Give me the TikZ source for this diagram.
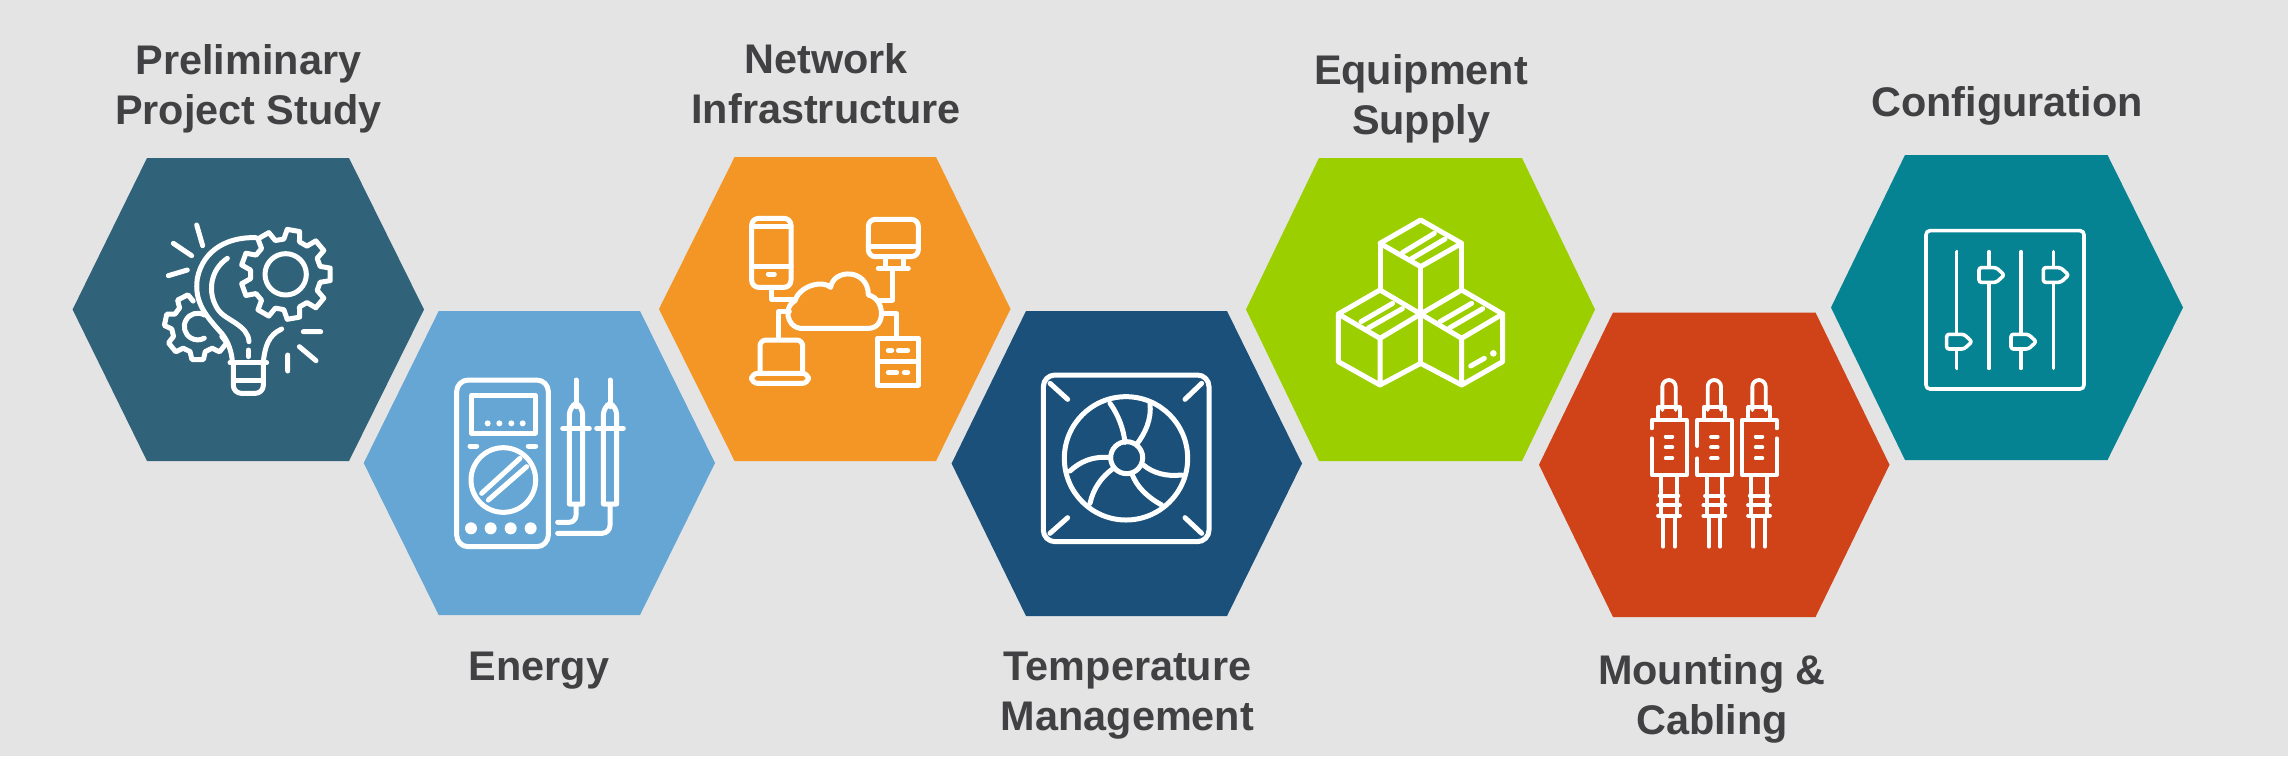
\documentclass[tikz,border=0pt]{standalone}
\usepackage{fontspec}
\setmainfont{Liberation Sans}
\definecolor{bgcol}{HTML}{E4E4E4}
\definecolor{hexa}{HTML}{306279}
\definecolor{hexb}{HTML}{65A6D4}
\definecolor{hexc}{HTML}{F39626}
\definecolor{hexd}{HTML}{1A5079}
\definecolor{hexe}{HTML}{9BCF00}
\definecolor{hexf}{HTML}{D04218}
\definecolor{hexg}{HTML}{058392}
\definecolor{labelcol}{HTML}{414143}
\tikzset{
  label text/.style={font=\fontsize{20.7}{25}\selectfont\bfseries,text=labelcol,align=center,inner sep=0pt,anchor=base},
  zoomed/.style={x=0.166667pt,y=-0.166667pt},
  icon/.style={draw=white,line width=2.5pt,line cap=round,line join=round},
  thin icon/.style={draw=white,line width=1.9pt,line cap=round,line join=round},
  dot/.style={fill=white}
}
% name, left, edge left, edge right, right, top, bottom, colour
\newcommand{\hexcell}[8]{%
  \fill[#8] (#2,{(#6+#7)/2}) -- (#3,#6) -- (#4,#6) -- (#5,{(#6+#7)/2}) -- (#4,#7) -- (#3,#7) -- cycle;
  \coordinate (#1) at ({(#2+#5)/2},{(#6+#7)/2});
}
% cx, cy, outer r, root r, root half angle, outer half angle, first angle, angle list
\newcommand{\geartooth}[8]{%
  ([shift={(#1,#2)}]#7-#5:#4) \foreach \a in {#8} { -- ([shift={(#1,#2)}]\a-#5:#4) -- ([shift={(#1,#2)}]\a-#6:#3) -- ([shift={(#1,#2)}]\a+#6:#3) -- ([shift={(#1,#2)}]\a+#5:#4) }
}
\newcommand{\plug}[1]{%
  \draw[thin icon] (#1-20,120) -- (#1-20,50) arc (-180:0:20) -- (#1+20,120);
  \draw[thin icon] (#1-32,150) -- (#1-32,112) -- (#1+32,112) -- (#1+32,150);
  \foreach \yy in {200,232,265} \draw[thin icon] (#1-10,\yy) -- (#1+10,\yy);
  \draw[thin icon] (#1-23,315) -- (#1-23,437) (#1+23,315) -- (#1+23,437);
  \draw[thin icon] (#1-28,377) -- (#1+28,377) (#1-33,406) -- (#1+33,406) (#1-33,437) -- (#1+33,437);
  \draw[thin icon] (#1-17,437) -- (#1-17,530) (#1+17,437) -- (#1+17,530);
}
\newcommand{\slider}[3]{%
  \draw[icon,line width=1.8pt] (#1,110) -- (#1,460);
  \ifnum#2>0
  \draw[icon,line width=1.8pt,fill=hexg,rounded corners=1.2pt] (#1-30,#2-22) -- (#1+22,#2-22) -- (#1+46,#2) -- (#1+22,#2+22) -- (#1-30,#2+22) -- cycle;
  \fi
}
\begin{document}
\begin{tikzpicture}[x=0.5pt,y=-0.5pt]
\useasboundingbox (0,0) rectangle (2288,756);
\fill[bgcol] (0,0) rectangle (2288,756);

\hexcell{hone}{72.6}{147}{349}{424}{158}{461}{hexa}
\hexcell{htwo}{363.7}{438.7}{640}{715}{311}{615}{hexb}
\hexcell{hthree}{659}{734.6}{936}{1010.5}{157}{461}{hexc}
\hexcell{hfour}{951.6}{1026}{1227}{1302}{311}{616}{hexd}
\hexcell{hfive}{1246}{1319}{1522}{1595}{158}{461}{hexe}
\hexcell{hsix}{1539}{1613}{1815.5}{1889.5}{312.5}{617}{hexf}
\hexcell{hseven}{1831}{1905}{2107.5}{2183}{155}{460}{hexg}

% Labels (anchor = baseline of the last line)
\node[label text] (lone) at (248.5,124.5) {Preliminary\\Project Study};
\node[label text] (ltwo) at (539,680.5) {Energy};
\node[label text] (lthree) at (826,123) {Network\\Infrastructure};
\node[label text] (lfour) at (1127.5,730) {Temperature\\Management};
\node[label text] (lfive) at (1421,134) {Equipment\\Supply};
\node[label text] (lsix) at (1712,734) {Mounting \&\\Cabling};
\node[label text] (lseven) at (2007,116) {Configuration};

% Icon 1: bulb and gears
\begin{scope}[shift={(150,215)},zoomed]
  \draw[icon] (140,30) -- (158,92) (70,85) -- (125,122) (55,182) -- (112,165);
  \draw[icon] (460,350) -- (512,350) (448,395) -- (498,437) (413,420) -- (413,468);
  \draw[icon] \geartooth{407}{178}{135}{106}{13}{8}{0}{0,40,80,120,160,200,240,280,320} -- cycle;
  \draw[icon] (407,178) circle (62);
  \draw[icon] (318,68) .. controls (240,65) and (160,100) .. (142,190) .. controls (132,260) and (165,300) .. (215,355) .. controls (235,380) and (245,410) .. (247,440);
  \draw[icon] (232,130) .. controls (180,165) and (170,235) .. (205,285) .. controls (225,315) and (295,330) .. (297,380);
  \draw[icon] (395,342) .. controls (355,360) and (345,395) .. (340,440);
  \draw[icon] (295,405) -- (295,425);
  \draw[icon] \geartooth{143}{335}{100}{78}{17}{10}{-321}{-321,-270,-219,-168,-117};
  \draw[icon] (163,300) arc (-60:-300:40);
  \draw[icon] (240,443) -- (350,443) (255,495) -- (335,495);
  \draw[icon,rounded corners=4pt] (250,443) -- (250,535) -- (340,535) -- (340,443);
\end{scope}

% Icon 2: multimeter
\begin{scope}[shift={(445,370)},zoomed]
  \draw[icon,rounded corners=5.8pt] (35,30) rectangle (310,530);
  \draw[icon] (80,75) rectangle (270,190);
  \foreach \xx in {128,163,199,233} \fill[dot] (\xx,160) circle (9);
  \draw[icon] (75,228) -- (95,228) (250,228) -- (272,228);
  \draw[icon] (175,330) circle (97);
  \draw[icon] (110,370) -- (225,265) (130,390) -- (245,290);
  \foreach \xx in {78,137,197,257} \fill[dot] (\xx,475) circle (18);
  \foreach \xx in {393,495} {
    \draw[icon] (\xx,30) -- (\xx,110);
    \draw[icon] (\xx-20,402) -- (\xx-20,135) .. controls (\xx-20,120) and (\xx-10,105) .. (\xx,100) .. controls (\xx+10,105) and (\xx+20,120) .. (\xx+20,135) -- (\xx+20,402) -- cycle;
    \draw[icon] (\xx-40,175) -- (\xx+40,175);
  }
  \draw[icon,rounded corners=3.5pt] (393,405) -- (393,457) -- (338,457);
  \draw[icon,rounded corners=4pt] (495,405) -- (495,490) -- (338,490);
\end{scope}

% Icon 3: network
\begin{scope}[shift={(740,210)},zoomed]
  \draw[icon,rounded corners=3.5pt] (35,25) rectangle (153,232);
  \draw[icon] (35,50) -- (153,50) (35,170) -- (153,170) (85,192) -- (103,192);
  \draw[icon,rounded corners=3.5pt] (385,28) rectangle (535,140);
  \draw[icon] (385,108) -- (535,108) (437,145) -- (437,172) (490,145) -- (490,172) (415,175) -- (505,175);
  \draw[icon] (458,178) -- (458,270) -- (420,270);
  \draw[icon] (180,355) .. controls (140,350) and (130,290) .. (165,272) .. controls (180,225) and (250,210) .. (272,232) .. controls (280,175) and (385,175) .. (385,255) .. controls (435,265) and (440,355) .. (385,355) -- cycle;
  \draw[icon] (95,235) -- (95,268) -- (165,268);
  \draw[icon] (115,380) -- (115,305) -- (148,305);
  \draw[icon,rounded corners=3pt] (60,490) -- (60,390) -- (188,390) -- (188,490);
  \draw[icon,rounded corners=3pt] (35,490) rectangle (205,520);
  \draw[icon] (432,310) -- (470,310) -- (470,385);
  \draw[icon] (412,385) rectangle (535,525);
  \draw[icon] (412,455) -- (535,455);
  \draw[icon] (445,422) -- (455,422) (475,422) -- (503,422) (445,488) -- (470,488) (493,488) -- (503,488);
\end{scope}

% Icon 4: fan
\begin{scope}[shift={(1035,365)},zoomed]
  \draw[icon,rounded corners=5.8pt] (25,30) rectangle (522,530);
  \draw[icon] (45,55) -- (98,103) (500,55) -- (450,103) (45,505) -- (98,458) (500,505) -- (450,458);
  \draw[icon] (273,280) circle (185);
  \draw[icon] (275,278) circle (48);
  \draw[icon] (225,115) .. controls (250,150) and (265,190) .. (270,232);
  \draw[icon] (345,115) .. controls (350,165) and (330,205) .. (305,238);
  \draw[icon] (105,318) .. controls (135,290) and (175,272) .. (225,278);
  \draw[icon] (165,415) .. controls (175,370) and (200,335) .. (235,310);
  \draw[icon] (325,300) .. controls (355,325) and (395,335) .. (440,330);
  \draw[icon] (290,325) .. controls (305,365) and (335,395) .. (380,420);
\end{scope}

% Icon 5: boxes
\begin{scope}[shift={(1325,210)},zoomed]
  \draw[icon] (287,30) -- (410,100) -- (287,170) -- (165,100) -- cycle;
  \draw[icon] (165,100) -- (165,240) (410,100) -- (410,240) (287,170) -- (287,460);
  \draw[icon] (232,128) -- (328,70) (258,147) -- (360,87);
  \draw[icon] (165,240) -- (287,312) -- (165,385) -- (40,312) -- cycle;
  \draw[icon] (40,312) -- (40,455) -- (165,525) -- (287,460) (165,385) -- (165,525);
  \draw[icon] (108,335) -- (203,280) (130,354) -- (232,296);
  \draw[icon] (410,240) -- (533,312) -- (410,385) -- (287,312) -- cycle;
  \draw[icon] (533,312) -- (533,455) -- (410,525) -- (287,460) (410,385) -- (410,525);
  \draw[icon] (345,335) -- (440,280) (373,354) -- (473,296);
  \draw[icon] (437,468) -- (478,445);
  \fill[dot] (505,430) circle (10);
\end{scope}

% Icon 6: plugs
\begin{scope}[shift={(1620,370)},zoomed]
  \plug{147}\plug{283}\plug{417}
  \draw[thin icon] (95,175) -- (95,150) -- (200,150) -- (200,315) -- (95,315) -- (95,205);
  \draw[thin icon] (232,228) -- (232,150) -- (335,150) -- (335,315) -- (232,315) -- (232,265);
  \draw[thin icon] (470,175) -- (470,150) -- (365,150) -- (365,315) -- (470,315) -- (470,205);
\end{scope}

% Icon 7: sliders
\begin{scope}[shift={(1910,215)},zoomed]
  \draw[icon,line width=1.8pt,rounded corners=2pt] (48,47) rectangle (522,522);
  \slider{140}{380}{}
  \slider{237}{180}{}
  \slider{333}{380}{}
  \slider{430}{180}{}
\end{scope}
\end{tikzpicture}
\end{document}
